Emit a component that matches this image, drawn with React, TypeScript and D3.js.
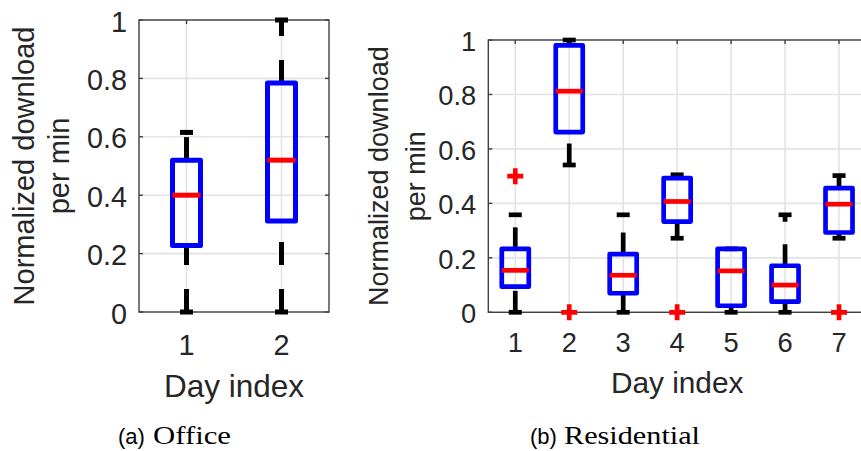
import React from 'react';
import * as d3 from 'd3';

// ---------- data ----------
const officeDays = ['1', '2'];
const officeLow = [0, 0];
const officeQ1 = [0.228, 0.312];
const officeMedian = [0.4, 0.52];
const officeQ3 = [0.52, 0.784];
const officeHigh = [0.615, 1.0];
const officeOutliers: number[][] = [[], []];

const resDays = ['1', '2', '3', '4', '5', '6', '7'];
const resLow = [0, 0.541, 0, 0.272, 0, 0, 0.272];
const resQ1 = [0.094, 0.662, 0.07, 0.333, 0.024, 0.039, 0.293];
const resMedian = [0.154, 0.812, 0.136, 0.407, 0.152, 0.1, 0.397];
const resQ3 = [0.233, 0.98, 0.214, 0.493, 0.233, 0.171, 0.456];
const resHigh = [0.358, 1.0, 0.358, 0.505, 0.233, 0.358, 0.502];
const resOutliers: number[][] = [[0.5], [0], [], [0], [], [], [0]];

const yTickValues = [0, 0.2, 0.4, 0.6, 0.8, 1];
const yTickLabels = ['0', '0.2', '0.4', '0.6', '0.8', '1'];
const yLabelLines = ['Normalized download', 'per min'];
const xLabelText = 'Day index';
const captionTags = ['(a)', '(b)'];
const captionNames = ['Office', 'Residential'];

const SANS = '"Liberation Sans", Arial, Helvetica, sans-serif';
const SERIF = '"Liberation Serif", "Times New Roman", serif';
const TXT = '#262626';

type PanelProps = {
  days: string[];
  low: number[];
  q1: number[];
  med: number[];
  q3: number[];
  high: number[];
  outliers: number[][];
  left: number;
  right: number;
  top: number;
  bottom: number;
  tickFont: number;
  xLabelFont: number;
  yLabelFont: number;
  yLab1X: number;
  yLab2X: number;
  xTickBase: number;
  xLabelBase: number;
  halfW: number;
  lw: number;
  dash: string;
};

function Panel(p: PanelProps) {
  const x = d3
    .scaleLinear()
    .domain([0.5, p.days.length + 0.5])
    .range([p.left, p.right]);
  const y = d3.scaleLinear().domain([0, 1]).range([p.bottom, p.top]);
  const cy = (p.top + p.bottom) / 2;
  const cx = (p.left + p.right) / 2;
  const capHalf = 6.5;
  const tickLen = 4;
  const mark = 8;
  return (
    <g>
      {/* grid */}
      {yTickValues.map((v) => (
        <line key={'gy' + v} x1={p.left} x2={p.right} y1={y(v)} y2={y(v)} stroke="#e3e3e3" strokeWidth={1.6} />
      ))}
      {p.days.map((d, i) => (
        <line key={'gx' + d} x1={x(i + 1)} x2={x(i + 1)} y1={p.top} y2={p.bottom} stroke="#e3e3e3" strokeWidth={1.6} />
      ))}
      {/* axes box */}
      <rect x={p.left} y={p.top} width={p.right - p.left} height={p.bottom - p.top} fill="none" stroke="#404040" strokeWidth={1.4} />
      {yTickValues.map((v) => (
        <g key={'ty' + v}>
          <line x1={p.left} x2={p.left + tickLen} y1={y(v)} y2={y(v)} stroke="#404040" strokeWidth={1.4} />
          <line x1={p.right} x2={p.right - tickLen} y1={y(v)} y2={y(v)} stroke="#404040" strokeWidth={1.4} />
        </g>
      ))}
      {p.days.map((d, i) => (
        <g key={'tx' + d}>
          <line x1={x(i + 1)} x2={x(i + 1)} y1={p.bottom} y2={p.bottom - tickLen} stroke="#404040" strokeWidth={1.4} />
          <line x1={x(i + 1)} x2={x(i + 1)} y1={p.top} y2={p.top + tickLen} stroke="#404040" strokeWidth={1.4} />
        </g>
      ))}
      {/* tick labels */}
      {yTickValues.map((v, i) => (
        <text key={'ly' + v} x={p.left - 12} y={y(v)} dy="0.40em" textAnchor="end" fontFamily={SANS} fontSize={p.tickFont} fill={TXT}>
          {yTickLabels[i]}
        </text>
      ))}
      {p.days.map((d, i) => (
        <text key={'lx' + d} x={x(i + 1)} y={p.xTickBase} textAnchor="middle" fontFamily={SANS} fontSize={p.tickFont} fill={TXT}>
          {d}
        </text>
      ))}
      {/* axis labels */}
      <text x={cx} y={p.xLabelBase} textAnchor="middle" fontFamily={SANS} fontSize={p.xLabelFont} fill={TXT}>
        {xLabelText}
      </text>
      <text transform={`translate(${p.yLab1X},${cy}) rotate(-90)`} textAnchor="middle" fontFamily={SANS} fontSize={p.yLabelFont} fill={TXT}>
        {yLabelLines[0]}
      </text>
      <text transform={`translate(${p.yLab2X},${cy}) rotate(-90)`} textAnchor="middle" fontFamily={SANS} fontSize={p.yLabelFont} fill={TXT}>
        {yLabelLines[1]}
      </text>
      {/* boxes */}
      {p.days.map((d, i) => {
        const xc = x(i + 1);
        return (
          <g key={'b' + d}>
            {p.q1[i] > p.low[i] && (
              <line x1={xc} x2={xc} y1={y(p.low[i])} y2={y(p.q1[i])} stroke="#000" strokeWidth={p.lw} strokeDasharray={p.dash} />
            )}
            {p.high[i] > p.q3[i] && (
              <line x1={xc} x2={xc} y1={y(p.q3[i])} y2={y(p.high[i])} stroke="#000" strokeWidth={p.lw} strokeDasharray={p.dash} />
            )}
            <line x1={xc - capHalf} x2={xc + capHalf} y1={y(p.low[i])} y2={y(p.low[i])} stroke="#000" strokeWidth={p.lw} />
            <line x1={xc - capHalf} x2={xc + capHalf} y1={y(p.high[i])} y2={y(p.high[i])} stroke="#000" strokeWidth={p.lw} />
            <rect
              x={xc - p.halfW}
              y={y(p.q3[i])}
              width={2 * p.halfW}
              height={y(p.q1[i]) - y(p.q3[i])}
              fill="none"
              stroke="#0000ff"
              strokeWidth={p.lw}
              strokeLinejoin="round"
            />
            <line x1={xc - p.halfW} x2={xc + p.halfW} y1={y(p.med[i])} y2={y(p.med[i])} stroke="#ff0000" strokeWidth={p.lw} />
            {p.outliers[i].map((o, k) => (
              <path
                key={k}
                d={`M${xc - mark},${y(o)}H${xc + mark}M${xc},${y(o) - mark}V${y(o) + mark}`}
                stroke="#ff0000"
                strokeWidth={p.lw}
                fill="none"
              />
            ))}
          </g>
        );
      })}
    </g>
  );
}

export default function App() {
  const capTagX = [118, 530];
  const capNameX = [153, 564];
  const capNameLen = [78, 136];
  return (
    <svg
      width={861}
      height={451}
      style={{ position: 'absolute', left: 0, top: 0, background: '#fff' }}
      xmlns="http://www.w3.org/2000/svg"
    >
      <rect x={0} y={0} width={861} height={451} fill="#fff" />
      <Panel
        days={officeDays}
        low={officeLow}
        q1={officeQ1}
        med={officeMedian}
        q3={officeQ3}
        high={officeHigh}
        outliers={officeOutliers}
        left={139}
        right={329}
        top={20}
        bottom={312}
        tickFont={28.8}
        xLabelFont={31.5}
        yLabelFont={29}
        yLab1X={33.5}
        yLab2X={69}
        xTickBase={355}
        xLabelBase={397}
        halfW={14}
        lw={5}
        dash="23 24"
      />
      <Panel
        days={resDays}
        low={resLow}
        q1={resQ1}
        med={resMedian}
        q3={resQ3}
        high={resHigh}
        outliers={resOutliers}
        left={488.3}
        right={866}
        top={40}
        bottom={312.3}
        tickFont={27.3}
        xLabelFont={29.8}
        yLabelFont={27}
        yLab1X={388.3}
        yLab2X={424.5}
        xTickBase={352}
        xLabelBase={392.7}
        halfW={13.5}
        lw={4.7}
        dash="21.5 22.5"
      />
      {captionTags.map((t, i) => (
        <g key={t}>
          <text x={capTagX[i]} y={444} fontSize={22} fontFamily={SANS} fill="#000">
            {t}
          </text>
          <text
            x={capNameX[i]}
            y={444}
            fontSize={25}
            fontFamily={SERIF}
            fill="#000"
            textLength={capNameLen[i]}
            lengthAdjust="spacingAndGlyphs"
          >
            {captionNames[i]}
          </text>
        </g>
      ))}
    </svg>
  );
}
